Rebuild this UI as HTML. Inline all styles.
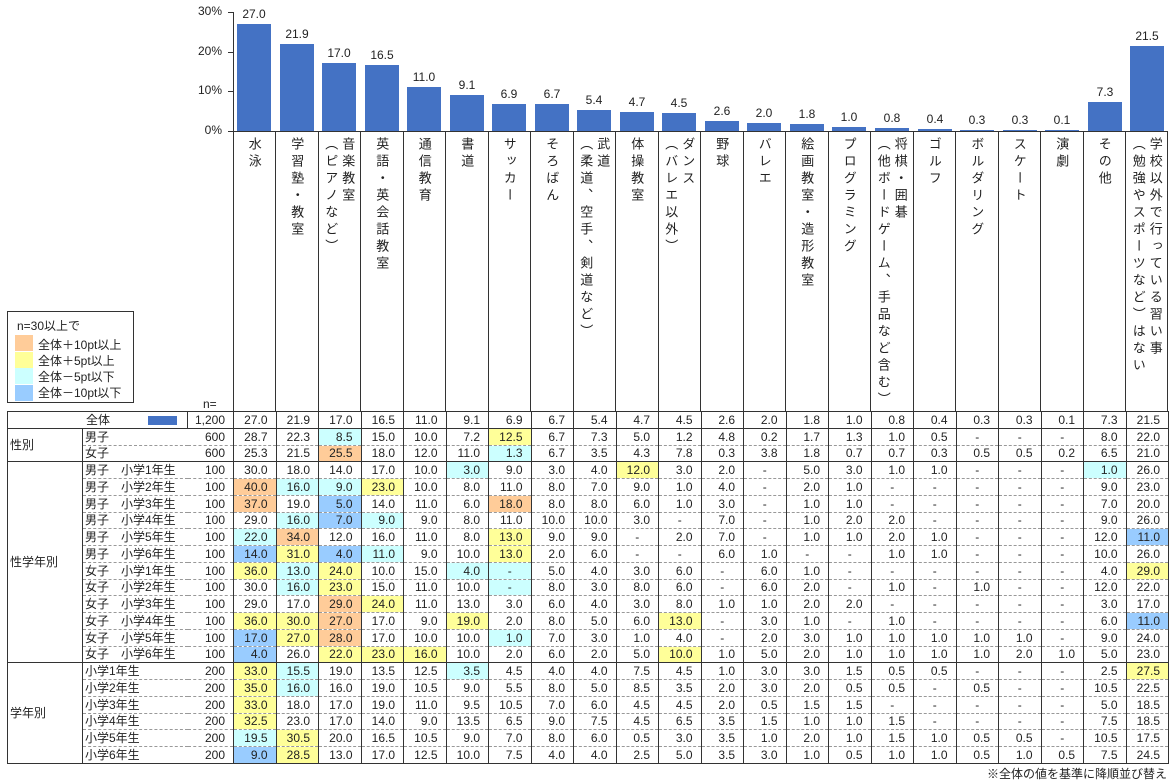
<!DOCTYPE html>
<html><head><meta charset="utf-8">
<style>
*{margin:0;padding:0;box-sizing:border-box}
body{width:1175px;height:783px;background:#fff;position:relative;overflow:hidden;font-family:"Liberation Sans","Noto Sans CJK JP",sans-serif;color:#222}
.abs{position:absolute}
.bar{position:absolute;background:#4472C4;width:34px}
.bv{position:absolute;width:42px;text-align:center;font-size:12px;color:#222}
.yl{position:absolute;right:953px;font-size:12px;width:40px;text-align:right}
.hl{position:absolute;top:131px;height:280px;width:1px;background:#333}
.hc{position:absolute;top:137px;height:272px;width:42.5px;display:flex;justify-content:center}
.hc span{writing-mode:vertical-rl;font-size:13px;letter-spacing:4px;line-height:17px;white-space:nowrap}
table{position:absolute;left:7px;top:411px;width:1161px;border-collapse:collapse;table-layout:fixed;font-size:12px}
td{height:16.76px;padding:0 8px 0 0;line-height:14px;border-left:1px solid #333;border-right:1px solid #333;border-top:1px dashed #999;text-align:right;white-space:nowrap;overflow:hidden}
td.d{text-align:center;padding:0}
td.l{text-align:left;padding-left:2px;border-right:none}
td.n{text-align:right;padding-right:8px;border-left:none}
tr.s td{border-top:1px solid #333}
td.sec{text-align:left;padding-left:2px;border-top:1px solid #333;border-bottom:1px solid #333}
.o{background:#FFCC99}.y{background:#FFFF99}.c{background:#CCFFFF}.b{background:#99CCFF}
.legend{position:absolute;left:7px;top:311px;width:127px;height:92px;border:1px solid #333;font-size:12px}
.sw{position:absolute;left:7px;width:18px;height:16px}
.lt{position:absolute;left:30px}
</style></head><body>

<div class="abs" style="left:233px;top:12px;width:1px;height:120px;background:#333"></div>
<div class="abs" style="left:228px;top:12px;width:5px;height:1px;background:#333"></div>
<div class="abs" style="left:228px;top:52px;width:5px;height:1px;background:#333"></div>
<div class="abs" style="left:228px;top:91px;width:5px;height:1px;background:#333"></div>
<div class="abs" style="left:228px;top:131px;width:5px;height:1px;background:#333"></div>
<div class="abs" style="left:233px;top:131px;width:935px;height:1px;background:#333"></div>
<div class="yl" style="top:4px">30%</div>
<div class="yl" style="top:44px">20%</div>
<div class="yl" style="top:83px">10%</div>
<div class="yl" style="top:123px">0%</div>

<div class="bar" style="left:237px;top:24px;height:107px"></div><div class="bv" style="left:233px;top:7px">27.0</div>
<div class="bar" style="left:280px;top:44px;height:87px"></div><div class="bv" style="left:276px;top:27px">21.9</div>
<div class="bar" style="left:322px;top:63px;height:68px"></div><div class="bv" style="left:318px;top:46px">17.0</div>
<div class="bar" style="left:365px;top:65px;height:66px"></div><div class="bv" style="left:361px;top:48px">16.5</div>
<div class="bar" style="left:407px;top:87px;height:44px"></div><div class="bv" style="left:403px;top:70px">11.0</div>
<div class="bar" style="left:450px;top:95px;height:36px"></div><div class="bv" style="left:446px;top:78px">9.1</div>
<div class="bar" style="left:492px;top:104px;height:27px"></div><div class="bv" style="left:488px;top:87px">6.9</div>
<div class="bar" style="left:535px;top:104px;height:27px"></div><div class="bv" style="left:531px;top:87px">6.7</div>
<div class="bar" style="left:577px;top:110px;height:21px"></div><div class="bv" style="left:573px;top:93px">5.4</div>
<div class="bar" style="left:620px;top:112px;height:19px"></div><div class="bv" style="left:616px;top:95px">4.7</div>
<div class="bar" style="left:662px;top:113px;height:18px"></div><div class="bv" style="left:658px;top:96px">4.5</div>
<div class="bar" style="left:705px;top:121px;height:10px"></div><div class="bv" style="left:701px;top:104px">2.6</div>
<div class="bar" style="left:747px;top:123px;height:8px"></div><div class="bv" style="left:743px;top:106px">2.0</div>
<div class="bar" style="left:790px;top:124px;height:7px"></div><div class="bv" style="left:786px;top:107px">1.8</div>
<div class="bar" style="left:832px;top:127px;height:4px"></div><div class="bv" style="left:828px;top:110px">1.0</div>
<div class="bar" style="left:875px;top:128px;height:3px"></div><div class="bv" style="left:871px;top:111px">0.8</div>
<div class="bar" style="left:918px;top:129px;height:2px"></div><div class="bv" style="left:914px;top:112px">0.4</div>
<div class="bar" style="left:960px;top:130px;height:1px"></div><div class="bv" style="left:956px;top:113px">0.3</div>
<div class="bar" style="left:1003px;top:130px;height:1px"></div><div class="bv" style="left:999px;top:113px">0.3</div>
<div class="bar" style="left:1045px;top:130px;height:1px"></div><div class="bv" style="left:1041px;top:113px">0.1</div>
<div class="bar" style="left:1088px;top:102px;height:29px"></div><div class="bv" style="left:1084px;top:85px">7.3</div>
<div class="bar" style="left:1130px;top:46px;height:85px"></div><div class="bv" style="left:1126px;top:29px">21.5</div>

<div class="hl" style="left:233px"></div><div class="hl" style="left:275px"></div><div class="hl" style="left:318px"></div><div class="hl" style="left:360px"></div><div class="hl" style="left:403px"></div><div class="hl" style="left:445px"></div><div class="hl" style="left:488px"></div><div class="hl" style="left:530px"></div><div class="hl" style="left:573px"></div><div class="hl" style="left:615px"></div><div class="hl" style="left:658px"></div><div class="hl" style="left:700px"></div><div class="hl" style="left:743px"></div><div class="hl" style="left:785px"></div><div class="hl" style="left:828px"></div><div class="hl" style="left:870px"></div><div class="hl" style="left:913px"></div><div class="hl" style="left:955px"></div><div class="hl" style="left:998px"></div><div class="hl" style="left:1040px"></div><div class="hl" style="left:1083px"></div><div class="hl" style="left:1125px"></div><div class="hl" style="left:1167px"></div>

<div class="hc" style="left:233px"><span>水泳</span></div>
<div class="hc" style="left:275.5px"><span>学習塾・教室</span></div>
<div class="hc" style="left:318px"><span>音楽教室<br>（ピアノなど）</span></div>
<div class="hc" style="left:360.5px"><span>英語・英会話教室</span></div>
<div class="hc" style="left:403px"><span>通信教育</span></div>
<div class="hc" style="left:445.5px"><span>書道</span></div>
<div class="hc" style="left:488px"><span>サッカー</span></div>
<div class="hc" style="left:530.5px"><span>そろばん</span></div>
<div class="hc" style="left:573px"><span>武道<br>（柔道、空手、剣道など）</span></div>
<div class="hc" style="left:615.5px"><span>体操教室</span></div>
<div class="hc" style="left:658px"><span>ダンス<br>（バレエ以外）</span></div>
<div class="hc" style="left:700.5px"><span>野球</span></div>
<div class="hc" style="left:743px"><span>バレエ</span></div>
<div class="hc" style="left:785.5px"><span>絵画教室・造形教室</span></div>
<div class="hc" style="left:828px"><span>プログラミング</span></div>
<div class="hc" style="left:870.5px"><span>将棋・囲碁<br>（他ボードゲーム、手品など含む）</span></div>
<div class="hc" style="left:913px"><span>ゴルフ</span></div>
<div class="hc" style="left:955.5px"><span>ボルダリング</span></div>
<div class="hc" style="left:998px"><span>スケート</span></div>
<div class="hc" style="left:1040.5px"><span>演劇</span></div>
<div class="hc" style="left:1083px"><span>その他</span></div>
<div class="hc" style="left:1125.5px"><span>学校以外で行っている習い事<br>（勉強やスポーツなど）はない</span></div>

<div class="legend">
<div class="abs" style="left:9px;top:5px">n=30以上で</div>
<div class="sw o" style="top:23px"></div><div class="lt" style="top:24px">全体＋10pt以上</div>
<div class="sw y" style="top:40px"></div><div class="lt" style="top:40px">全体＋5pt以上</div>
<div class="sw c" style="top:56px"></div><div class="lt" style="top:56px">全体－5pt以下</div>
<div class="sw b" style="top:73px"></div><div class="lt" style="top:72px">全体－10pt以下</div>
</div>
<div class="abs" style="left:203px;top:397px;font-size:12px">n=</div>

<table>
<colgroup><col style="width:75px"><col style="width:105px"><col style="width:46px"><col span="22" style="width:42.5px"></colgroup>
<tr class="s"><td colspan="2" style="text-align:left;padding-left:78px;border-right:1px solid #333">全体<span style="display:inline-block;width:29px;height:9px;background:#4472C4;margin-left:38px;vertical-align:middle"></span></td><td class="n" style="border-left:1px solid #333">1,200</td><td>27.0</td><td>21.9</td><td>17.0</td><td>16.5</td><td>11.0</td><td>9.1</td><td>6.9</td><td>6.7</td><td>5.4</td><td>4.7</td><td>4.5</td><td>2.6</td><td>2.0</td><td>1.8</td><td>1.0</td><td>0.8</td><td>0.4</td><td>0.3</td><td>0.3</td><td>0.1</td><td>7.3</td><td>21.5</td></tr>
<tr class="s"><td class="sec" rowspan="2">性別</td><td class="l">男子</td><td class="n">600</td><td>28.7</td><td>22.3</td><td class="c">8.5</td><td>15.0</td><td>10.0</td><td>7.2</td><td class="y">12.5</td><td>6.7</td><td>7.3</td><td>5.0</td><td>1.2</td><td>4.8</td><td>0.2</td><td>1.7</td><td>1.3</td><td>1.0</td><td>0.5</td><td class="d">-</td><td class="d">-</td><td class="d">-</td><td>8.0</td><td>22.0</td></tr>
<tr><td class="l">女子</td><td class="n">600</td><td>25.3</td><td>21.5</td><td class="o">25.5</td><td>18.0</td><td>12.0</td><td>11.0</td><td class="c">1.3</td><td>6.7</td><td>3.5</td><td>4.3</td><td>7.8</td><td>0.3</td><td>3.8</td><td>1.8</td><td>0.7</td><td>0.7</td><td>0.3</td><td>0.5</td><td>0.5</td><td>0.2</td><td>6.5</td><td>21.0</td></tr>
<tr class="s"><td class="sec" rowspan="12">性学年別</td><td class="l">男子　小学1年生</td><td class="n">100</td><td>30.0</td><td>18.0</td><td>14.0</td><td>17.0</td><td>10.0</td><td class="c">3.0</td><td>9.0</td><td>3.0</td><td>4.0</td><td class="y">12.0</td><td>3.0</td><td>2.0</td><td class="d">-</td><td>5.0</td><td>3.0</td><td>1.0</td><td>1.0</td><td class="d">-</td><td class="d">-</td><td class="d">-</td><td class="c">1.0</td><td>26.0</td></tr>
<tr><td class="l">男子　小学2年生</td><td class="n">100</td><td class="o">40.0</td><td class="c">16.0</td><td class="c">9.0</td><td class="y">23.0</td><td>10.0</td><td>8.0</td><td>11.0</td><td>8.0</td><td>7.0</td><td>9.0</td><td>1.0</td><td>4.0</td><td class="d">-</td><td>2.0</td><td>1.0</td><td class="d">-</td><td class="d">-</td><td class="d">-</td><td class="d">-</td><td class="d">-</td><td>9.0</td><td>23.0</td></tr>
<tr><td class="l">男子　小学3年生</td><td class="n">100</td><td class="o">37.0</td><td>19.0</td><td class="b">5.0</td><td>14.0</td><td>11.0</td><td>6.0</td><td class="o">18.0</td><td>8.0</td><td>8.0</td><td>6.0</td><td>1.0</td><td>3.0</td><td class="d">-</td><td>1.0</td><td>1.0</td><td class="d">-</td><td class="d">-</td><td class="d">-</td><td class="d">-</td><td class="d">-</td><td>7.0</td><td>20.0</td></tr>
<tr><td class="l">男子　小学4年生</td><td class="n">100</td><td>29.0</td><td class="c">16.0</td><td class="b">7.0</td><td class="c">9.0</td><td>9.0</td><td>8.0</td><td>11.0</td><td>10.0</td><td>10.0</td><td>3.0</td><td class="d">-</td><td>7.0</td><td class="d">-</td><td>1.0</td><td>2.0</td><td>2.0</td><td class="d">-</td><td class="d">-</td><td class="d">-</td><td class="d">-</td><td>9.0</td><td>26.0</td></tr>
<tr><td class="l">男子　小学5年生</td><td class="n">100</td><td class="c">22.0</td><td class="o">34.0</td><td>12.0</td><td>16.0</td><td>11.0</td><td>8.0</td><td class="y">13.0</td><td>9.0</td><td>9.0</td><td class="d">-</td><td>2.0</td><td>7.0</td><td class="d">-</td><td>1.0</td><td>1.0</td><td>2.0</td><td>1.0</td><td class="d">-</td><td class="d">-</td><td class="d">-</td><td>12.0</td><td class="b">11.0</td></tr>
<tr><td class="l">男子　小学6年生</td><td class="n">100</td><td class="b">14.0</td><td class="y">31.0</td><td class="b">4.0</td><td class="c">11.0</td><td>9.0</td><td>10.0</td><td class="y">13.0</td><td>2.0</td><td>6.0</td><td class="d">-</td><td class="d">-</td><td>6.0</td><td>1.0</td><td class="d">-</td><td class="d">-</td><td>1.0</td><td>1.0</td><td class="d">-</td><td class="d">-</td><td class="d">-</td><td>10.0</td><td>26.0</td></tr>
<tr><td class="l">女子　小学1年生</td><td class="n">100</td><td class="y">36.0</td><td class="c">13.0</td><td class="y">24.0</td><td>10.0</td><td>15.0</td><td class="c">4.0</td><td class="c d">-</td><td>5.0</td><td>4.0</td><td>3.0</td><td>6.0</td><td class="d">-</td><td>6.0</td><td>1.0</td><td class="d">-</td><td class="d">-</td><td class="d">-</td><td class="d">-</td><td class="d">-</td><td class="d">-</td><td>4.0</td><td class="y">29.0</td></tr>
<tr><td class="l">女子　小学2年生</td><td class="n">100</td><td>30.0</td><td class="c">16.0</td><td class="y">23.0</td><td>15.0</td><td>11.0</td><td>10.0</td><td class="c d">-</td><td>8.0</td><td>3.0</td><td>8.0</td><td>6.0</td><td class="d">-</td><td>6.0</td><td>2.0</td><td class="d">-</td><td>1.0</td><td class="d">-</td><td>1.0</td><td class="d">-</td><td class="d">-</td><td>12.0</td><td>22.0</td></tr>
<tr><td class="l">女子　小学3年生</td><td class="n">100</td><td>29.0</td><td>17.0</td><td class="o">29.0</td><td class="y">24.0</td><td>11.0</td><td>13.0</td><td>3.0</td><td>6.0</td><td>4.0</td><td>3.0</td><td>8.0</td><td>1.0</td><td>1.0</td><td>2.0</td><td>2.0</td><td class="d">-</td><td class="d">-</td><td class="d">-</td><td class="d">-</td><td class="d">-</td><td>3.0</td><td>17.0</td></tr>
<tr><td class="l">女子　小学4年生</td><td class="n">100</td><td class="y">36.0</td><td class="y">30.0</td><td class="o">27.0</td><td>17.0</td><td>9.0</td><td class="y">19.0</td><td>2.0</td><td>8.0</td><td>5.0</td><td>6.0</td><td class="y">13.0</td><td class="d">-</td><td>3.0</td><td>1.0</td><td class="d">-</td><td>1.0</td><td class="d">-</td><td class="d">-</td><td class="d">-</td><td class="d">-</td><td>6.0</td><td class="b">11.0</td></tr>
<tr><td class="l">女子　小学5年生</td><td class="n">100</td><td class="b">17.0</td><td class="y">27.0</td><td class="o">28.0</td><td>17.0</td><td>10.0</td><td>10.0</td><td class="c">1.0</td><td>7.0</td><td>3.0</td><td>1.0</td><td>4.0</td><td class="d">-</td><td>2.0</td><td>3.0</td><td>1.0</td><td>1.0</td><td>1.0</td><td>1.0</td><td>1.0</td><td class="d">-</td><td>9.0</td><td>24.0</td></tr>
<tr><td class="l">女子　小学6年生</td><td class="n">100</td><td class="b">4.0</td><td>26.0</td><td class="y">22.0</td><td class="y">23.0</td><td class="y">16.0</td><td>10.0</td><td>2.0</td><td>6.0</td><td>2.0</td><td>5.0</td><td class="y">10.0</td><td>1.0</td><td>5.0</td><td>2.0</td><td>1.0</td><td>1.0</td><td>1.0</td><td>1.0</td><td>2.0</td><td>1.0</td><td>5.0</td><td>23.0</td></tr>
<tr class="s"><td class="sec" rowspan="6">学年別</td><td class="l">小学1年生</td><td class="n">200</td><td class="y">33.0</td><td class="c">15.5</td><td>19.0</td><td>13.5</td><td>12.5</td><td class="c">3.5</td><td>4.5</td><td>4.0</td><td>4.0</td><td>7.5</td><td>4.5</td><td>1.0</td><td>3.0</td><td>3.0</td><td>1.5</td><td>0.5</td><td>0.5</td><td class="d">-</td><td class="d">-</td><td class="d">-</td><td>2.5</td><td class="y">27.5</td></tr>
<tr><td class="l">小学2年生</td><td class="n">200</td><td class="y">35.0</td><td class="c">16.0</td><td>16.0</td><td>19.0</td><td>10.5</td><td>9.0</td><td>5.5</td><td>8.0</td><td>5.0</td><td>8.5</td><td>3.5</td><td>2.0</td><td>3.0</td><td>2.0</td><td>0.5</td><td>0.5</td><td class="d">-</td><td>0.5</td><td class="d">-</td><td class="d">-</td><td>10.5</td><td>22.5</td></tr>
<tr><td class="l">小学3年生</td><td class="n">200</td><td class="y">33.0</td><td>18.0</td><td>17.0</td><td>19.0</td><td>11.0</td><td>9.5</td><td>10.5</td><td>7.0</td><td>6.0</td><td>4.5</td><td>4.5</td><td>2.0</td><td>0.5</td><td>1.5</td><td>1.5</td><td class="d">-</td><td class="d">-</td><td class="d">-</td><td class="d">-</td><td class="d">-</td><td>5.0</td><td>18.5</td></tr>
<tr><td class="l">小学4年生</td><td class="n">200</td><td class="y">32.5</td><td>23.0</td><td>17.0</td><td>14.0</td><td>9.0</td><td>13.5</td><td>6.5</td><td>9.0</td><td>7.5</td><td>4.5</td><td>6.5</td><td>3.5</td><td>1.5</td><td>1.0</td><td>1.0</td><td>1.5</td><td class="d">-</td><td class="d">-</td><td class="d">-</td><td class="d">-</td><td>7.5</td><td>18.5</td></tr>
<tr><td class="l">小学5年生</td><td class="n">200</td><td class="c">19.5</td><td class="y">30.5</td><td>20.0</td><td>16.5</td><td>10.5</td><td>9.0</td><td>7.0</td><td>8.0</td><td>6.0</td><td>0.5</td><td>3.0</td><td>3.5</td><td>1.0</td><td>2.0</td><td>1.0</td><td>1.5</td><td>1.0</td><td>0.5</td><td>0.5</td><td class="d">-</td><td>10.5</td><td>17.5</td></tr>
<tr style="border-bottom:1px solid #333"><td class="l">小学6年生</td><td class="n">200</td><td class="b">9.0</td><td class="y">28.5</td><td>13.0</td><td>17.0</td><td>12.5</td><td>10.0</td><td>7.5</td><td>4.0</td><td>4.0</td><td>2.5</td><td>5.0</td><td>3.5</td><td>3.0</td><td>1.0</td><td>0.5</td><td>1.0</td><td>1.0</td><td>0.5</td><td>1.0</td><td>0.5</td><td>7.5</td><td>24.5</td></tr>
</table>

<div class="abs" style="right:8px;top:765px;font-size:12px">※全体の値を基準に降順並び替え</div>
</body></html>
